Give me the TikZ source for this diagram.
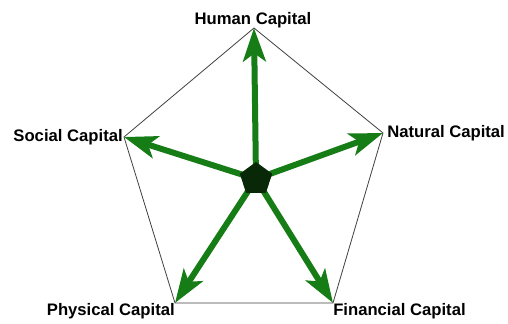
\documentclass[tikz,border=0pt]{standalone}
\usepackage{fontspec}
\setmainfont{Liberation Sans}
\usetikzlibrary{arrows.meta,shapes.geometric}
\definecolor{arrowgreen}{RGB}{22,125,22}
\definecolor{hubgreen}{RGB}{8,40,8}
\tikzset{
  spoke/.style={draw=arrowgreen, line width=4.5pt, -{Stealth[length=25pt,width=17pt,inset=6pt]}},
  frame/.style={draw=black!75, line width=0.6pt},
  lbl/.style={font=\bfseries\fontsize{12.5pt}{14pt}\selectfont, inner sep=0pt},
  hub/.style={regular polygon, regular polygon sides=5, fill=hubgreen, minimum size=25.5pt, inner sep=0pt}
}
\begin{document}
\begin{tikzpicture}[x=0.75pt,y=-0.75pt]
\useasboundingbox (0,0) rectangle (508,324);
\coordinate (T) at (254,28);
\coordinate (R) at (383,133);
\coordinate (BR) at (333,303);
\coordinate (BL) at (175,303);
\coordinate (L) at (124,137);
\draw[frame] (T) -- (R) -- (BR) -- (BL) -- (L) -- cycle;
\coordinate (c) at (256,179);
\draw[spoke] (c) -- (T);
\draw[spoke] (c) -- (R);
\draw[spoke] (c) -- (BR);
\draw[spoke] (c) -- (BL);
\draw[spoke] (c) -- (L);
\node[hub] (hub) at (c) {};
\node[lbl, anchor=base] (human) at (253,25) {Human Capital};
\node[lbl, anchor=east] (social) at (123,137) {Social Capital};
\node[lbl, anchor=west] (natural) at (387,133) {Natural Capital};
\node[lbl, anchor=east] (physical) at (175,311) {Physical Capital};
\node[lbl, anchor=west] (financial) at (333,311) {Financial Capital};
\end{tikzpicture}
\end{document}
